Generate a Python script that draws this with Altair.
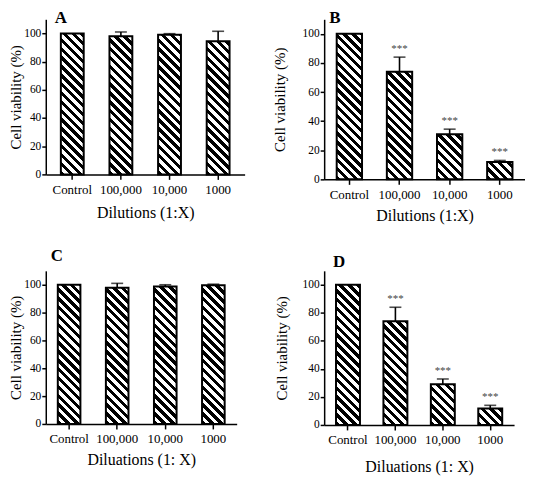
import math
import altair as alt
import pandas as pd

categories = ["Control", "100,000", "10,000", "1000"]

vals_A = [100, 98, 99, 94.5]
errs_A = [0, 3, 0.8, 7]
vals_B = [100, 74, 31, 12]
errs_B = [0, 10, 3.5, 1]
vals_C = [100, 97.8, 98.8, 99.6]
errs_C = [0, 3.2, 1.2, 0.8]
vals_D = [100, 74, 29, 11.8]
errs_D = [0, 10, 3.8, 2.2]
stars_A = ["", "", "", ""]
stars_B = ["", "***", "***", "***"]
stars_C = ["", "", "", ""]
stars_D = ["", "***", "***", "***"]

letters = ["A", "B", "C", "D"]
x_titles = ["Dilutions (1:X)", "Dilutions (1:X)", "Diluations (1: X)", "Diluations (1: X)"]
y_title = "Cell viability (%)"
y_ticks = [0, 20, 40, 60, 80, 100]
y_max = 110

FONT = "Liberation Serif"

# per-panel layout (style only)
layout = {
    "A": dict(w=200, h=156, pi=0.53, po=0.31, title_dx=9, title_off=-8, ytp=0, xtp=8),
    "B": dict(w=202, h=161, pi=0.495, po=0.25, title_dx=5, title_off=-8, ytp=15, xtp=6),
    "C": dict(w=192, h=154, pi=0.53, po=0.25, title_dx=5, title_off=6, ytp=0, xtp=6),
    "D": dict(w=191, h=155, pi=0.495, po=0.25, title_dx=9, title_off=0, ytp=13, xtp=12),
}


def hatch(w, h, period=6.3, frac=0.5):
    s = (w + h) / (w * w + h * h)
    n = (w + h) / (math.sqrt(2) * period)
    stops = []
    k = 0
    while k < n:
        a = k / n
        b = min((k + frac) / n, 1.0)
        c = min((k + 1) / n, 1.0)
        stops += [
            {"offset": round(a, 5), "color": "black"},
            {"offset": round(b, 5), "color": "black"},
            {"offset": round(b, 5), "color": "white"},
            {"offset": round(c, 5), "color": "white"},
        ]
        k += 1
    return {"gradient": "linear", "x1": 0, "y1": 1,
            "x2": round(s * w, 5), "y2": round(1 - s * h, 5), "stops": stops}


def panel(letter, vals, errs, stars, xt):
    L = layout[letter]
    df = pd.DataFrame({
        "cat": categories,
        "val": vals,
        "err": errs,
        "top": [v + e for v, e in zip(vals, errs)],
        "star": stars,
    })
    step = L["w"] / (len(categories) - L["pi"] + 2 * L["po"])
    bw = step * (1 - L["pi"])
    x = alt.X("cat:N", sort=categories,
              scale=alt.Scale(paddingInner=L["pi"], paddingOuter=L["po"]),
              axis=alt.Axis(title=xt, labelAngle=0, titlePadding=L["xtp"],
                            labelFont=FONT, titleFont=FONT, labelFontSize=13,
                            titleFontSize=16, labelPadding=4, tickSize=5))
    yaxis = alt.Axis(title=y_title, values=y_ticks, titlePadding=L["ytp"],
                     labelOverlap=False, labelPadding=1, tickSize=4,
                     labelFont=FONT, titleFont=FONT, labelFontSize=11.5, titleFontSize=15)
    yscale = alt.Scale(domain=[0, y_max], nice=False)
    base = alt.Chart(df).encode(x=x)
    layers = []
    for c, v in zip(categories, vals):
        hpx = v / y_max * L["h"]
        layers.append(
            base.transform_filter(alt.datum.cat == c)
            .mark_bar(fill=hatch(bw, hpx), stroke="black", strokeWidth=2)
            .encode(y=alt.Y("val:Q", scale=yscale, axis=yaxis))
        )
    eb = base.transform_filter(alt.datum.err > 0)
    layers.append(eb.mark_rule(color="black", strokeWidth=1.6)
                  .encode(y=alt.Y("val:Q", scale=yscale, axis=yaxis), y2="top:Q"))
    layers.append(eb.mark_tick(color="black", orient="horizontal", size=12, thickness=1.6)
                  .encode(y=alt.Y("top:Q", scale=yscale, axis=yaxis)))
    layers.append(base.transform_filter(alt.datum.star != "")
                  .mark_text(baseline="bottom", dy=-3, fontSize=11, color="#444", font=FONT)
                  .encode(y=alt.Y("top:Q", scale=yscale, axis=yaxis), text="star:N"))
    return alt.layer(*layers).properties(
        width=L["w"], height=L["h"],
        title=alt.TitleParams(text=letter, anchor="start", frame="group", dx=L["title_dx"],
                              offset=L["title_off"], fontSize=17, fontWeight="bold",
                              font=FONT, color="black"),
    )


pA = panel("A", vals_A, errs_A, stars_A, x_titles[0])
pB = panel("B", vals_B, errs_B, stars_B, x_titles[1])
pC = panel("C", vals_C, errs_C, stars_C, x_titles[2])
pD = panel("D", vals_D, errs_D, stars_D, x_titles[3])

chart = alt.vconcat(
    alt.hconcat(pA, pB, spacing=27),
    alt.hconcat(pC, pD, spacing=37),
    spacing=24,
).properties(padding={"left": 0, "top": 0, "right": 0, "bottom": 0}).configure(
    font=FONT,
).configure_view(stroke=None).configure_axis(
    domainColor="black", domainWidth=1.5, tickColor="black", tickWidth=1.5,
    labelColor="black", titleColor="black", titleFontWeight="normal", grid=False,
)

chart.save("out.html", embed_options={"renderer": "svg", "actions": False})
